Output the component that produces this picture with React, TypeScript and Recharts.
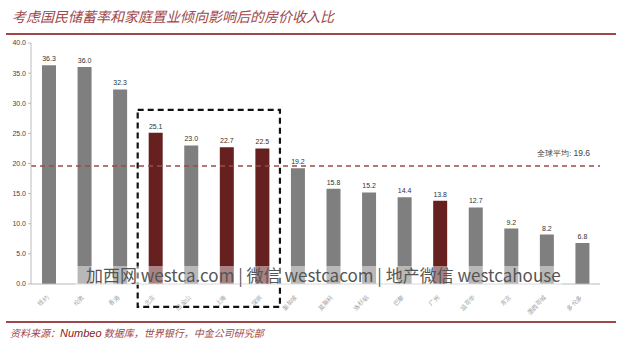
import { BarChart, Bar, XAxis, YAxis, Cell, LabelList, ReferenceLine, ReferenceArea } from 'recharts';

const cities = ['纽约', '伦敦', '香港', '北京', '旧金山', '上海', '深圳', '新加坡', '莫斯科', '洛杉矶', '巴黎', '广州', '温哥华', '东京', '墨西哥城', '多伦多'];
const ratios = [36.3, 36.0, 32.3, 25.1, 23.0, 22.7, 22.5, 19.2, 15.8, 15.2, 14.4, 13.8, 12.7, 9.2, 8.2, 6.8];
const chinaCities = ['北京', '上海', '深圳', '广州'];
const yTicks = [0, 5, 10, 15, 20, 25, 30, 35, 40];
const globalAvg = 19.6;

const data = cities.map((city, i) => ({ city, ratio: ratios[i] }));

const RED = '#65201f';
const GRAY = '#7f7f7f';
const BRAND = '#a0474a';

const XTick = (props: any) => {
  const { x, y, payload } = props;
  return (
    <text x={x} y={y + 6} transform={`rotate(-45 ${x} ${y + 6})`} textAnchor="end" fontSize={6} fill="#999">
      {payload.value}
    </text>
  );
};

const AvgLabel = (props: any) => {
  const { viewBox } = props;
  return (
    <text x={viewBox.x + viewBox.width - 10} y={viewBox.y - 10} textAnchor="end" fontSize={7.5} fill="#444">
      全球平均:  <tspan fontSize={8.5}>{globalAvg}</tspan>
    </text>
  );
};

const ValueLabel = (props: any) => {
  const { x, y, width, value } = props;
  return (
    <text x={x + width / 2} y={y - 4} textAnchor="middle" fontSize={7} fill="#333">
      {Number(value).toFixed(1)}
    </text>
  );
};

export default function App() {
  return (
    <div style={{ position: 'absolute', left: 0, top: 0, width: 640, height: 356, background: '#fff', fontFamily: 'Arial, "Liberation Sans", sans-serif' }}>
      <div style={{ position: 'absolute', left: 12, top: 6, fontFamily: '"Noto Sans CJK SC"', fontStyle: 'italic', fontSize: 14, color: BRAND }}>
        考虑国民储蓄率和家庭置业倾向影响后的房价收入比
      </div>
      <div style={{ position: 'absolute', left: 6, top: 33, width: 610, height: 2, background: BRAND }} />
      <div style={{ position: 'absolute', left: 0, top: 0 }}>
        <BarChart width={640} height={320} data={data} margin={{ top: 43, right: 40, left: 0, bottom: 0 }}>
          <XAxis
            dataKey="city"
            interval={0}
            height={36}
            tick={<XTick />}
            tickLine={false}
            axisLine={{ stroke: '#bbb' }}
          />
          <YAxis
            width={31}
            domain={[0, 40]}
            ticks={yTicks}
            tickFormatter={(v: number) => v.toFixed(1)}
            tick={{ fontSize: 7, fill: '#444' }}
            tickSize={3}
            tickLine={{ stroke: '#bbb' }}
            axisLine={{ stroke: '#bbb' }}
            allowDataOverflow
          />
          <Bar dataKey="ratio" isAnimationActive={false} barSize={14}>
            {data.map((d) => (
              <Cell key={d.city} fill={chinaCities.includes(d.city) ? RED : GRAY} />
            ))}
            <LabelList dataKey="ratio" content={<ValueLabel />} />
          </Bar>
          <ReferenceLine y={globalAvg} stroke="#9b4b4b" strokeWidth={1.5} strokeDasharray="5 4" label={<AvgLabel />} />
          <ReferenceArea x1="北京" x2="深圳" y1={-3.8} y2={28.9} ifOverflow="visible" fill="none" stroke="#111" strokeWidth={2.2} strokeDasharray="6 4" />
        </BarChart>
      </div>
      <div style={{ position: 'absolute', left: 76, top: 266, width: 486, height: 19, background: 'rgba(255,255,255,0.45)' }} />
      <div style={{ position: 'absolute', left: 86, top: 263, fontFamily: '"Noto Sans CJK SC"', fontSize: 17, color: '#555', whiteSpace: 'nowrap', lineHeight: '24px' }}>
        加西网 westca.com | 微信 westcacom | 地产微信 westcahouse
      </div>
      <div style={{ position: 'absolute', left: 6, top: 321, width: 610, height: 1.5, background: BRAND }} />
      <div style={{ position: 'absolute', left: 10, top: 325, fontFamily: '"Noto Sans CJK SC"', fontStyle: 'italic', fontSize: 10, color: BRAND, whiteSpace: 'nowrap' }}>
        资料来源：<span style={{ fontFamily: 'Arial, "Liberation Sans"', fontSize: 11, color: '#8b1a1a' }}>Numbeo</span> 数据库，世界银行，中金公司研究部
      </div>
    </div>
  );
}
